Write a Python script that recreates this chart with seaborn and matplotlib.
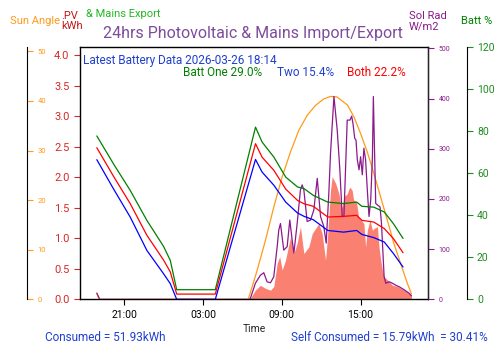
import numpy as np
import pandas as pd
import matplotlib; matplotlib.use('Agg')
import matplotlib.pyplot as plt
import matplotlib.dates as mdates
import seaborn as sns

# hours counted from midnight of 2026-03-25 (so 30.0 = 06:00 on the 26th)
batt_hours = [18.92, 20.18, 21.46, 22.73, 24.0, 24.51, 25.0, 27.94, 31.0, 31.5, 32.4,
              33.3, 34.2, 34.7, 35.4, 36.5, 37.7, 38.7, 39.1, 40.0, 40.8, 41.5, 42.23]
batt_one = [77.8, 64.6, 51.9, 37.6, 25.2, 18.6, 4.6, 4.6, 82.0, 74.9, 67.7,
            58.2, 53.5, 52.7, 49.5, 46.3, 45.6, 46.3, 44.3, 43.9, 41.6, 36.0, 29.0]
batt_two = [66.5, 52.7, 39.2, 23.3, 12.2, 7.5, 0.0, 0.0, 66.6, 60.6, 54.3,
            46.3, 41.1, 39.5, 37.9, 32.8, 32.0, 32.8, 30.9, 29.4, 27.3, 21.8, 15.4]
batt_both = [72.2, 58.7, 45.6, 30.5, 18.7, 13.1, 2.5, 2.5, 74.1, 67.7, 61.4,
             52.5, 47.1, 45.5, 44.3, 39.2, 39.5, 40.0, 37.6, 36.8, 33.7, 28.9, 22.2]

sun_hours = [18.92, 19.08, 30.45, 31.12, 31.76, 32.39, 33.03, 33.66, 34.30, 34.94, 35.57,
             36.20, 36.71, 37.2, 37.99, 38.49, 39.0, 39.51, 40.02, 40.53, 41.04, 41.54,
             42.05, 42.56, 42.87]
sun_angle = [1.3, 0.0, 0.0, 5.8, 11.9, 18.6, 24.7, 29.7, 34.1, 37.1, 39.1,
             40.4, 40.9, 40.8, 39.2, 36.8, 33.4, 29.7, 25.3, 20.6, 15.9, 11.2,
             7.2, 3.2, 1.1]

rad_hours = [18.92, 19.0, 19.15, 30.5, 30.61, 30.99, 31.37, 31.63, 31.88, 32.14, 32.39,
             32.65, 32.77, 32.90, 33.15, 33.41, 33.61, 33.79, 33.92, 34.17, 34.42, 34.55,
             34.68, 34.93, 35.19, 35.44, 35.70, 35.95, 36.20, 36.38, 36.58, 36.71, 36.97,
             37.22, 37.42, 37.60, 37.73, 37.98, 38.19, 38.32, 38.42, 38.55, 38.65, 38.75,
             38.88, 39.00, 39.13, 39.25, 39.38, 39.51, 39.64, 39.77, 39.90, 39.97, 40.07,
             40.15, 40.28, 40.48, 40.59, 40.69, 40.79, 40.92, 41.18, 41.43, 41.68, 41.94,
             42.32, 42.70, 42.87]
sol_rad = [12, 8, 0, 0, 2, 32, 48, 53, 35, 33, 45,
           105, 138, 151, 98, 105, 158, 118, 92, 151, 218, 228,
           218, 155, 158, 178, 241, 165, 145, 112, 211, 291, 404,
           337, 258, 165, 165, 357, 357, 365, 350, 321, 317, 278,
           258, 284, 248, 301, 278, 218, 165, 198, 284, 404, 284,
           191, 188, 184, 151, 98, 45, 32, 35, 32, 28, 25,
           19, 12, 7]

pv_hours = [30.55, 30.99, 31.37, 31.76, 32.14, 32.39, 32.65, 32.84, 33.03, 33.28, 33.66,
            33.92, 34.17, 34.42, 34.68, 35.06, 35.32, 35.82, 36.07, 36.33, 36.50, 36.71,
            36.84, 37.10, 37.35, 37.48, 37.6, 37.73, 37.98, 38.17, 38.35, 38.47, 38.68,
            38.85, 39.04, 39.25, 39.38, 39.51, 39.71, 39.90, 40.02, 40.28, 40.40, 40.53,
            40.66, 40.79, 41.04, 41.43, 41.81, 42.32, 42.70, 42.87]
pv_kwh = [0.0, 0.15, 0.23, 0.18, 0.15, 0.21, 0.59, 0.70, 0.48, 0.64, 1.02,
          0.75, 0.92, 1.19, 0.75, 0.86, 1.08, 1.24, 1.08, 0.64, 1.08, 1.79,
          2.01, 1.90, 1.73, 1.57, 1.50, 1.68, 1.73, 1.84, 1.79, 1.63, 1.60,
          1.35, 1.30, 1.24, 0.86, 1.13, 1.30, 1.13, 1.16, 1.19, 0.86, 0.64,
          0.48, 0.37, 0.32, 0.23, 0.21, 0.15, 0.10, 0.06]

day0 = pd.Timestamp('2026-03-25')
def to_time(h):
    return day0 + pd.to_timedelta(np.asarray(h), unit='h')

RED = '#d42a2a'
ORANGE = '#ff9a1a'
PURPLE = '#8b1a8b'
GREEN = '#1e8c1e'
BLUE = '#1f3fcf'
FONT = ['Roboto', 'DejaVu Sans']

sns.set_style('white')
plt.rcParams['font.family'] = FONT

fig = plt.figure(figsize=(5, 3.53), dpi=100)
ax = fig.add_axes([0.16, 0.152, 0.696, 0.714])

# PV kWh (filled)
ax.fill_between(to_time(pv_hours), pv_kwh, color='salmon', lw=0, zorder=1)
ax.set_ylim(0, 4.13)
ax.set_yticks(np.arange(0, 4.01, 0.5))
ax.tick_params(axis='y', colors=RED, labelsize=8, length=4, width=0.8, left=True)
ax.tick_params(axis='x', colors='black', labelsize=7.5, length=4, width=0.8, bottom=True)
for s in ax.spines.values():
    s.set_color('black'); s.set_linewidth(1)
ax.set_xlabel('Time', fontsize=7.5, labelpad=3)
ax.set_ylabel('')

# Sun angle on an offset axis to the far left
ax_sun = ax.twinx()
ax_sun.spines['right'].set_position(('axes', -0.152))
sns.lineplot(x=to_time(sun_hours), y=sun_angle, ax=ax_sun, color=ORANGE, lw=0.9)
ax_sun.set_ylim(0, 50.8)
ax_sun.set_yticks(range(0, 51, 10))
ax_sun.tick_params(axis='y', colors=ORANGE, labelsize=5.5, length=4, width=0.8, right=True)
ax_sun.spines['right'].set_color('black')

# Solar radiation on the right
ax_rad = ax.twinx()
sns.lineplot(x=to_time(rad_hours), y=sol_rad, ax=ax_rad, color=PURPLE, lw=0.9)
ax_rad.set_ylim(0, 502)
ax_rad.set_yticks(range(0, 501, 100))
ax_rad.tick_params(axis='y', colors=PURPLE, labelsize=5, length=4, width=0.8, right=True)

# Battery % on offset axis to the far right
ax_bat = ax.twinx()
ax_bat.spines['right'].set_position(('axes', 1.111))
sns.lineplot(x=to_time(batt_hours), y=batt_one, ax=ax_bat, color='green', lw=0.9)
sns.lineplot(x=to_time(batt_hours), y=batt_both, ax=ax_bat, color='red', lw=0.9)
sns.lineplot(x=to_time(batt_hours), y=batt_two, ax=ax_bat, color='blue', lw=0.9)
ax_bat.set_ylim(0, 120)
ax_bat.set_yticks(range(0, 121, 20))
ax_bat.tick_params(axis='y', colors=GREEN, labelsize=7.5, length=4, width=0.8, right=True)
ax_bat.spines['right'].set_color('black')

for a in (ax_sun, ax_rad, ax_bat):
    a.set_ylabel('')
    a.set_xlabel('')
    for side in ('top', 'bottom', 'left'):
        a.spines[side].set_visible(False)

ax.set_xlim(day0 + pd.Timedelta(hours=17.64), day0 + pd.Timedelta(hours=44.13))
ax.xaxis.set_major_locator(mdates.HourLocator(byhour=[3, 9, 15, 21]))
ax.xaxis.set_major_formatter(mdates.DateFormatter('%H:%M'))

# labels around the plot
fig.text(0.02, 0.94, 'Sun Angle', color=ORANGE, fontsize=8, va='center')
fig.text(0.122, 0.94, '.PV\nkWh', color='#c01818', fontsize=8, va='center', linespacing=1.0)
fig.text(0.172, 0.96, '& Mains Export', color='#22b822', fontsize=8, va='center')
fig.text(0.506, 0.905, '24hrs Photovoltaic & Mains Import/Export', color='#7d4c9c',
         fontsize=11.5, ha='center', va='center')
fig.text(0.818, 0.94, 'Sol Rad\nW/m2', color=PURPLE, fontsize=8, va='center', linespacing=1.0)
fig.text(0.922, 0.94, 'Batt %', color='green', fontsize=8, va='center')

ax.text(0.008, 0.975, 'Latest Battery Data 2026-03-26 18:14', transform=ax.transAxes,
        color=BLUE, fontsize=8.5, va='top')
ax.text(0.296, 0.926, 'Batt One 29.0%', transform=ax.transAxes, color='green',
        fontsize=8.5, va='top')
ax.text(0.566, 0.926, 'Two 15.4%', transform=ax.transAxes, color=BLUE,
        fontsize=8.5, va='top')
ax.text(0.767, 0.926, 'Both 22.2%', transform=ax.transAxes, color='red',
        fontsize=8.5, va='top')

fig.text(0.09, 0.045, 'Consumed = 51.93kWh', color=BLUE, fontsize=8.5, va='center')
fig.text(0.976, 0.045, 'Self Consumed = 15.79kWh  = 30.41%', color=BLUE, fontsize=8.5,
         va='center', ha='right')

fig.savefig('out.png', dpi=100)
